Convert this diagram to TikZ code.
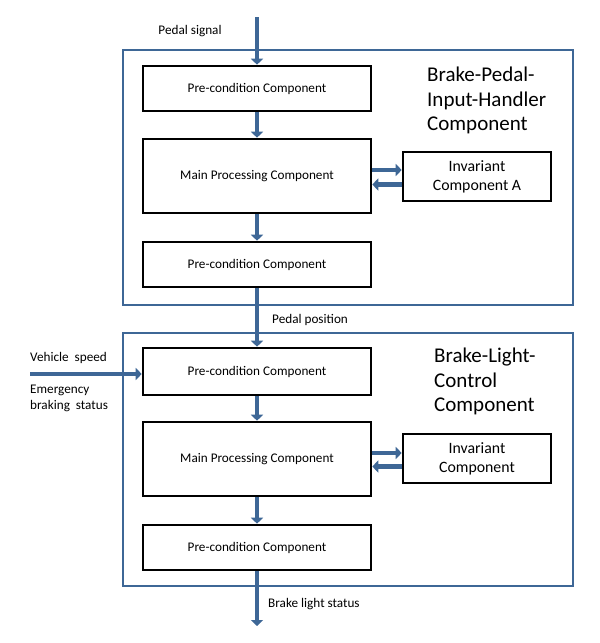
\documentclass[tikz,border=0pt]{standalone}
\usepackage{fontspec}
\setmainfont{Carlito}
\usetikzlibrary{arrows.meta,calc}
\definecolor{flowblue}{RGB}{62,103,150}
\begin{document}
\begin{tikzpicture}[x=1pt,y=-1pt,
  comp/.style={draw=black,line width=2.6pt,minimum width=228pt,inner sep=0pt,font=\fontsize{13.2}{15}\selectfont},
  inv/.style={draw=black,line width=2.6pt,minimum width=148pt,minimum height=49pt,inner sep=0pt,align=center,font=\fontsize{15.8}{19}\selectfont},
  container/.style={draw=flowblue,line width=2.2pt,minimum width=450pt,inner sep=0pt},
  flow/.style={draw=flowblue,line width=4.5pt,-{Triangle[width=12pt,length=6pt]}},
  lbl/.style={font=\fontsize{13.2}{15}\selectfont,inner sep=0pt},
  title/.style={font=\fontsize{21}{24.5}\selectfont,align=left,inner sep=0pt,anchor=west}]
\useasboundingbox[fill=white] (0,0) rectangle (600,643);
% containers
\node[container,minimum height=255pt] (c1) at (348,177.5) {};
\node[container,minimum height=253pt] (c2) at (348,459.5) {};
% upper components
\node[comp,minimum height=45pt] (pa) at (257,88.5) {Pre-condition Component};
\node[comp,minimum height=74pt] (ma) at (257,176) {Main Processing Component};
\node[comp,minimum height=45pt] (qa) at (257,264.5) {Pre-condition Component};
\node[inv] (ia) at (477,176.5) {Invariant\\Component A};
\node[title] (ta) at (427,100.5) {Brake-Pedal-\\Input-Handler\\Component};
% lower components
\node[comp,minimum height=47pt] (pb) at (257,371.5) {Pre-condition Component};
\node[comp,minimum height=74pt] (mb) at (257,459) {Main Processing Component};
\node[comp,minimum height=45pt] (qb) at (257,547.5) {Pre-condition Component};
\node[inv] (ib) at (477,458.5) {Invariant\\Component};
\node[title] (tb) at (434,381.5) {Brake-Light-\\Control\\Component};
% labels
\node[lbl] (ls) at (190,31) {Pedal signal};
\node[lbl,anchor=west] (lp) at (272,320) {Pedal position};
\node[lbl,anchor=west] (lv) at (30,358) {Vehicle\ \ speed};
\node[lbl,anchor=west,align=left,font=\fontsize{13.2}{15.5}\selectfont] (le) at (30,398.5) {Emergency\\braking\ \ status};
\node[lbl,anchor=west] (lb) at (268,604) {Brake light status};
% free ends
\coordinate (in1) at (257,17);
\coordinate (in2) at (30,374);
\coordinate (out1) at (257,626);
% arrows
\draw[flow] (in1) -- (pa.north);
\draw[flow] (pa.south) -- (ma.north);
\draw[flow] (ma.south) -- (qa.north);
\draw[flow] (qa.south) -- (pb.north);
\draw[flow] (in2) -- (in2 -| pb.west);
\draw[flow] (pb.south) -- (mb.north);
\draw[flow] (mb.south) -- (qb.north);
\draw[flow] (qb.south) -- (out1);
\draw[flow] ([yshift=6pt]ma.east) -- ([yshift=6pt]ma.east -| ia.west);
\draw[flow] ([yshift=-8pt]ia.west) -- ([yshift=-8pt]ia.west -| ma.east);
\draw[flow] ([yshift=6pt]mb.east) -- ([yshift=6pt]mb.east -| ib.west);
\draw[flow] ([yshift=-8pt]ib.west) -- ([yshift=-8pt]ib.west -| mb.east);
\end{tikzpicture}
\end{document}
